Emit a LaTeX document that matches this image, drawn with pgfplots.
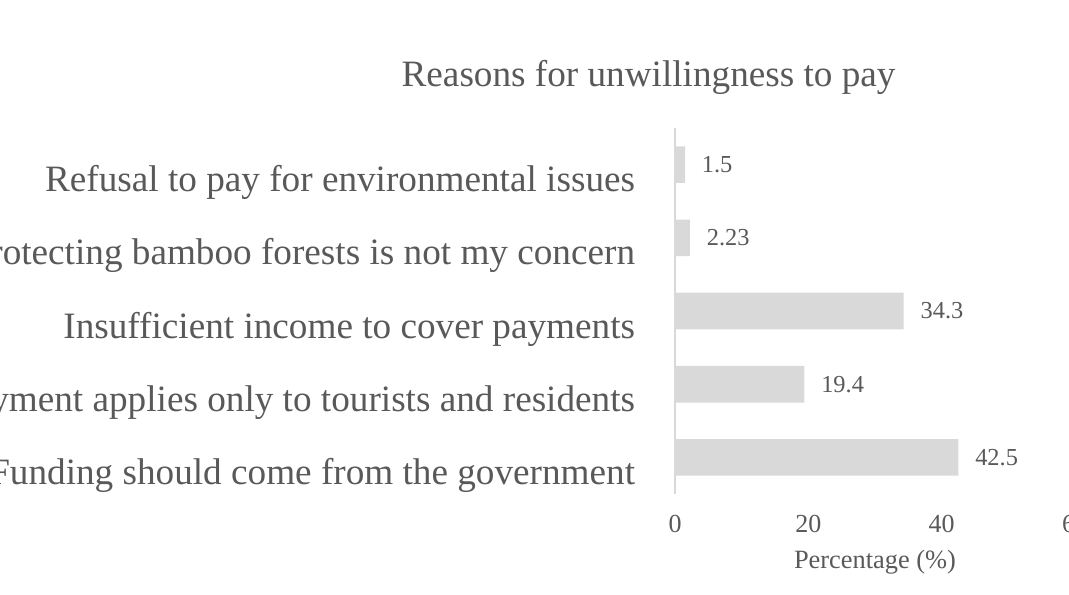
\documentclass[border=0pt]{standalone}
\usepackage{pgfplots}
\pgfplotsset{compat=1.18}
\usepackage{fontspec}
\setmainfont{Liberation Serif}
\definecolor{txt}{HTML}{595959}
\definecolor{barc}{HTML}{D9D9D9}
\begin{document}
\begin{tikzpicture}
\useasboundingbox (0,0) rectangle (801.75pt,445.5pt);
\clip (0,0) rectangle (801.75pt,445.5pt);
\begin{axis}[
  at={(506.25pt,75pt)}, anchor=south west,
  scale only axis, width=300pt, height=274.5pt,
  xmin=0, xmax=60, ymin=-0.5, ymax=4.5,
  xbar, bar width=0.5,
  axis lines*=left,
  x axis line style={draw=none},
  y axis line style={draw=barc, line width=1.1pt},
  major tick style={draw=none},
  xtick={0,20,40,60},
  ytick={0,1,2,3,4},
  yticklabels={Funding should come from the government,
    Payment applies only to tourists and residents,
    Insufficient income to cover payments,
    Protecting bamboo forests is not my concern,
    Refusal to pay for environmental issues},
  /pgf/number format/assume math mode=true,
  yticklabel style={font=\fontsize{27.9}{32}\selectfont, text=txt, anchor=base east, inner sep=0pt, xshift=-25.5pt, yshift=-20.3pt},
  xticklabel style={font=\fontsize{19.5}{23}\selectfont, text=txt, anchor=north, inner sep=0pt, yshift=-15.5pt},
  xlabel={Percentage (\%)},
  every axis x label/.style={at={(axis description cs:0.5,0)}, anchor=base, yshift=-55.5pt, font=\fontsize{19.8}{23}\selectfont, text=txt},
  title={Reasons for unwillingness to pay},
  every axis title/.style={at={(axis description cs:-0.066,1)}, anchor=base, yshift=31.5pt, font=\fontsize{27.9}{32}\selectfont, text=txt},
  nodes near coords,
  every node near coord/.append style={font=\fontsize{18.3}{21}\selectfont, text=txt, anchor=west, inner sep=0pt, xshift=12.5pt},
]
\addplot[fill=barc, draw=none] coordinates {(42.5,0) (19.4,1) (34.3,2) (2.23,3) (1.5,4)};
\end{axis}
\end{tikzpicture}
\end{document}
